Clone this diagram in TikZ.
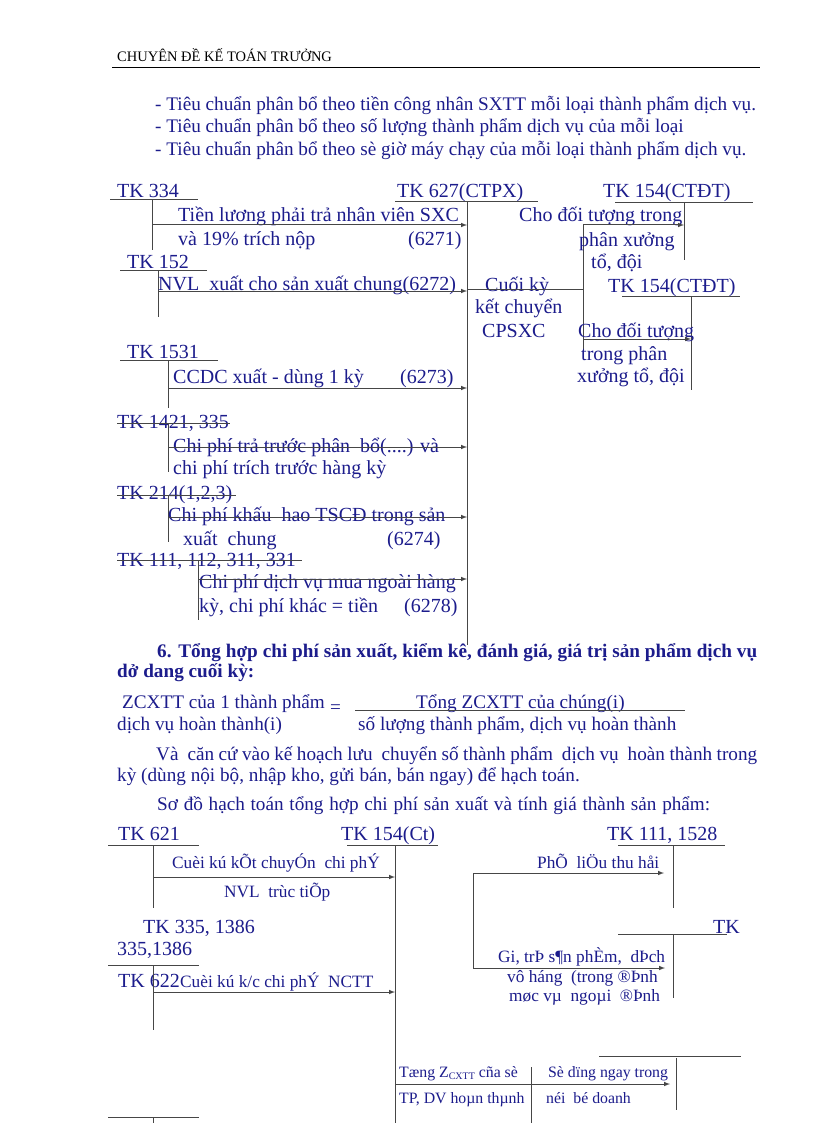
\documentclass[tikz,border=0pt]{standalone}
\usepackage{fontspec}
\setmainfont{Liberation Serif}
\usetikzlibrary{arrows,positioning}
\definecolor{navy}{RGB}{28,28,140}
\definecolor{rule}{RGB}{70,70,70}
\tikzstyle{arrow} = [line width=1pt, draw=rule, ->, >=latex]
\tikzset{
    txt/.style={
        anchor=base west, inner sep=0pt,
        text=navy, font=\fontsize{19.2}{22}\selectfont
    },
    acct/.style={
        txt, font=\fontsize{20}{24}\selectfont
    },
    small/.style={
        txt, font=\fontsize{17.3}{19}\selectfont
    },
    tiny/.style={
        txt, font=\fontsize{15.8}{18}\selectfont
    },
    tline/.style={
        line width=1pt, draw=rule
    },
    connector/.style={
        arrow
    }
}

\begin{document}
\begin{tikzpicture}[x=1pt, y=-1pt]
    \useasboundingbox[fill=white] (0,0) rectangle (816,1123);
    % header
    \node[txt, text=black, font=\fontsize{14.5}{17}\selectfont] (head) at (117,62) {CHUYÊN ĐỀ KẾ TOÁN TRƯỞNG};
    \draw[line width=0.8pt] (112,67) -- (760,67);
    \node[txt] (b1) at (155,111) {- Tiêu chuẩn phân bổ theo tiền  công nhân SXTT mỗi loại  thành phẩm dịch vụ.};
    \node[txt] (b2) at (155,133) {- Tiêu chuẩn phân bổ theo số lượng thành phẩm dịch vụ của mỗi loại};
    \node[txt] (b3) at (155,156) {- Tiêu chuẩn phân bổ theo sè giờ máy chạy của mỗi loại thành phẩm dịch vụ.};

    % upper accounts
    \node[acct] (tk334) at (117,198) {TK 334};
    \node[acct] (tk627) at (397,198) {TK 627(CTPX)};
    \node[acct] (tk154a) at (603,198) {TK 154(CTĐT)};
    \node[acct] (tk152) at (127,268) {TK 152};
    \node[acct] (tk154b) at (608,292) {TK 154(CTĐT)};
    \node[acct] (tk1531) at (127,358) {TK 1531};
    \node[acct] (tk1421) at (117,428) {TK 1421, 335};
    \node[acct] (tk214) at (117,499) {TK 214(1,2,3)};
    \node[acct] (tk111) at (117,566) {TK 111, 112, 311, 331};
    \coordinate (a334) at (152,200);
    \coordinate (a627) at (467,202);
    \coordinate (a154a) at (684,203);
    \coordinate (a152) at (158,270);
    \coordinate (a154b) at (691,296);
    \coordinate (split) at (583,225);
    \coordinate (a1531) at (168,360);
    \coordinate (a1421) at (168,423);
    \coordinate (a214) at (168,495);
    \coordinate (a111) at (198,560);
    \draw[tline] (110,200) -- (198,200) (a334) -- ++(0,50);
    \draw[tline] (395,202) -- (538,202) (a627) -- ++(0,443);
    \draw[tline] (615,203) -- (753,203) (a154a) -- ++(0,57);
    \draw[tline] (120,270) -- (207,270) (a152) -- ++(0,47);
    \draw[tline] (622,296) -- (740,296) (a154b) -- ++(0,94);
    \draw[tline] (120,360) -- (218,360) (a1531) -- ++(0,48);
    \draw[tline] (117,423) -- (230,423) (a1421) -- ++(0,49);
    \draw[tline] (117,495) -- (236,495) (a214) -- ++(0,47);
    \draw[tline] (117,560) -- (302,560) (a111) -- ++(0,60);
    \draw[tline] (split) -- ++(0,125);

    % upper labels
    \node[acct] (l1) at (178,222) {Tiền lương phải trả nhân viên SXC};
    \node[acct] (l1b) at (178,245) {và 19\% trích nộp};
    \node[acct] (l1c) at (408,245) {(6271)};
    \node[acct] (l2) at (158,290) {NVL\ \ xuất cho sản xuất chung(6272)};
    \node[acct] (l3) at (173,383) {CCDC xuất - dùng 1 kỳ};
    \node[acct] (l3c) at (400,383) {(6273)};
    \node[acct] (l4) at (173,452) {Chi phí trả trước phân\ \ bổ(....) và};
    \node[acct] (l4b) at (173,474) {chi phí trích trước hàng kỳ};
    \node[acct] (l5) at (168,521) {Chi phí khấu\ \ hao TSCĐ trong sản};
    \node[acct] (l5b) at (183,545) {xuất\ \ chung};
    \node[acct] (l5c) at (387,545) {(6274)};
    \node[acct] (l6) at (199,588) {Chi phí dịch vụ mua ngoài hàng};
    \node[acct] (l6b) at (199,612) {kỳ, chi phí khác = tiền};
    \node[acct] (l6c) at (404,612) {(6278)};
    \node[acct] (k1) at (485,291) {Cuối kỳ};
    \node[acct] (k2) at (475,313) {kết chuyển};
    \node[acct] (k3) at (482,337) {CPSXC};
    \node[acct] (r1) at (519,222) {Cho đối tượng trong};
    \node[acct] (r2) at (579,246) {phân xưởng};
    \node[acct] (r3) at (591,268) {tổ, đội};
    \node[acct] (r4) at (578,337) {Cho đối tượng};
    \node[acct] (r5) at (581,360) {trong phân};
    \node[acct] (r6) at (577,382) {xưởng tổ, đội};

    % upper connectors
    \draw[connector] (a334 |- 0,225) -- (a627 |- 0,225);
    \draw[connector] (a152 |- 0,291) -- (a627 |- 0,291);
    \draw[connector] (a1531 |- 0,388) -- (a627 |- 0,388);
    \draw[connector] (a1421 |- 0,447) -- (a627 |- 0,447);
    \draw[connector] (a214 |- 0,517) -- (a627 |- 0,517);
    \draw[connector] (a111 |- 0,579) -- (a627 |- 0,579);
    \draw[tline] (a627 |- 0,289) -- (split |- 0,289);
    \draw[connector] (split) -- (a154a |- split);
    \draw[connector] (split |- 0,339) -- (a154b |- 0,339);

    % section 6
    \node[txt, font=\bfseries\fontsize{19.2}{22}\selectfont] (s6) at (157,657) {\makebox[600pt][s]{6. Tổng hợp chi phí sản xuất, kiểm kê, đánh giá, giá trị sản phẩm dịch vụ}};
    \node[txt, font=\bfseries\fontsize{19.2}{22}\selectfont] (s6b) at (117,677) {dở dang cuối kỳ:};
    \node[txt] (f1) at (122,708) {ZCXTT của 1 thành phẩm};
    \node[txt] (feq) at (330,713) {=};
    \node[txt] (f2) at (117,730) {dịch vụ hoàn thành(i)};
    \node[txt] (f3) at (416,708) {Tổng ZCXTT của chúng(i)};
    \node[txt] (f4) at (358,730) {số lượng thành phẩm, dịch vụ hoàn thành};
    \draw[line width=0.8pt, draw=rule] (355,710) -- (685,710);
    \node[txt] (p1) at (156,760) {\makebox[601pt][s]{Và\ \ căn cứ vào kế hoạch lưu\ \ chuyển số thành phẩm\ \ dịch vụ\ \ hoàn thành trong}};
    \node[txt] (p2) at (117,781) {kỳ (dùng nội bộ, nhập kho, gửi bán, bán ngay) để hạch toán.};
    \node[txt] (p3) at (157,810) {\makebox[553pt][s]{Sơ đồ hạch toán tổng hợp chi phí sản xuất và tính giá thành sản phẩm:}};

    % lower accounts
    \node[acct] (tk621) at (118,840) {TK 621};
    \node[acct] (tk154c) at (341,840) {TK 154(Ct)};
    \node[acct] (tk1528) at (607,840) {TK 111, 1528};
    \node[acct] (tk335) at (143,933) {TK 335, 1386};
    \node[acct] (tk335b) at (117,955) {335,1386};
    \node[acct] (tk622) at (118,987) {TK 622};
    \node[acct] (tkx) at (713,933) {TK};
    \coordinate (b621) at (153,845);
    \coordinate (b154) at (395,845);
    \coordinate (b1528) at (673,845);
    \coordinate (bsplit) at (473,873);
    \coordinate (bx) at (673,934);
    \coordinate (b622) at (153,965);
    \coordinate (bsell) at (676,1058);
    \coordinate (bsep) at (531,1067);
    \coordinate (bleft) at (153,1117);
    \draw[tline] (108,845) -- (199,845) (b621) -- ++(0,63);
    \draw[tline] (347,845) -- (438,845) (b154) -- ++(0,290);
    \draw[tline] (618,845) -- (725,845) (b1528) -- ++(0,63);
    \draw[tline] (618,934) -- (727,934) (bx) -- ++(0,64);
    \draw[tline] (108,965) -- (199,965) (b622) -- ++(0,65);
    \draw[tline] (599,1056) -- (741,1056) (bsell) -- ++(0,52);
    \draw[tline] (108,1117) -- (199,1117) (bleft) -- ++(0,15);
    \draw[tline] (bsep) -- ++(0,65);
    \draw[tline] (bsplit) -- ++(0,95);

    % lower labels
    \node[small] (m1) at (172,868) {Cuèi kú kÕt chuyÓn\ \ chi phÝ};
    \node[small] (m1b) at (224,897) {NVL\ \ trùc tiÕp};
    \node[small] (m2) at (180,987) {Cuèi kú k/c chi phÝ\ \ NCTT};
    \node[small] (m3) at (537,868) {PhÕ\ \ liÖu thu håi};
    \node[small] (m4) at (498,962) {Gi, trÞ s¶n phÈm,\ \ dÞch};
    \node[small] (m4b) at (507,982) {vô háng\ \ (trong ®Þnh};
    \node[small] (m4c) at (509,1001) {møc vµ\ \ ngoµi\ \ ®Þnh};
    \node[tiny] (m5) at (399,1077) {Tæng Z\raisebox{-2.5pt}{\fontsize{10}{10}\selectfont CXTT} cña sè};
    \node[tiny] (m5b) at (399,1103) {TP, DV hoµn thµnh};
    \node[tiny] (m6) at (548,1077) {Sè dïng ngay trong};
    \node[tiny] (m6b) at (546,1103) {néi\ \ bé doanh};

    % lower connectors
    \draw[connector] (b621 |- 0,877) -- (b154 |- 0,877);
    \draw[connector] (b622 |- 0,992) -- (b154 |- 0,992);
    \draw[connector] (bsplit) -- ([xshift=-9pt]b1528 |- bsplit);
    \draw[connector] (bsplit |- 0,968) -- ([xshift=-8pt]bx |- 0,968);
    \draw[connector] (b154 |- 0,1084) -- ([xshift=-6pt]bsell |- 0,1084);
\end{tikzpicture}
\end{document}
